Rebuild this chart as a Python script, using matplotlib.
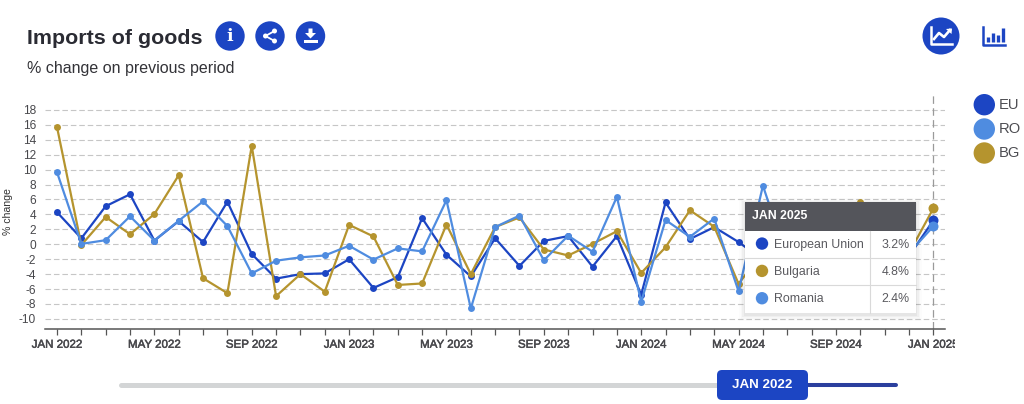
import matplotlib
matplotlib.use("Agg")
import matplotlib.pyplot as plt
import matplotlib.patheffects as pe
from matplotlib.patches import Circle, Rectangle, FancyBboxPatch, Polygon
from matplotlib.lines import Line2D
from matplotlib.transforms import Bbox

plt.rcParams['font.family'] = ['Liberation Sans', 'DejaVu Sans']

W, H = 1024, 404
TITLE = "Imports of goods"
SUBTITLE = "% change on previous period"
Y_LABEL = "% change"

month_labels = ["JAN 2022", "MAY 2022", "SEP 2022", "JAN 2023", "MAY 2023",
                "SEP 2023", "JAN 2024", "MAY 2024", "SEP 2024", "JAN 2025"]
y_ticks = list(range(-10, 20, 2))

eu = [4.3, 0.8, 5.1, 6.7, 0.5, 3.1, 0.3, 5.7, -1.3, -4.6, -4.0, -3.9,
      -2.0, -5.85, -4.4, 3.5, -1.4, -4.3, 0.8, -2.9, 0.45, 1.1, -3.0, 1.1,
      -6.75, 5.6, 0.7, 2.3, 0.3, -2.1, 1.0, -1.0, 1.0, 2.0, -0.5, -1.6, 3.2]
bg = [15.7, -0.1, 3.66, 1.35, 4.05, 9.25, -4.55, -6.55, 13.2, -6.95, -4.0, -6.35,
      2.6, 1.05, -5.45, -5.25, 2.65, -4.0, 2.3, 3.6, -0.7, -1.5, 0.05, 1.75,
      -3.85, -0.4, 4.55, 2.35, -5.3, -1.0, 2.0, 0.5, 1.0, 5.7, 1.0, -1.2, 4.8]
ro = [9.65, 0.05, 0.55, 3.75, 0.5, 3.15, 5.75, 2.45, -3.9, -2.2, -1.75, -1.5,
      -0.2, -2.05, -0.55, -0.95, 5.9, -8.6, 2.3, 3.85, -2.15, 1.15, -1.0, 6.35,
      -7.7, 3.25, 1.0, 3.45, -6.3, 7.85, -1.9, 1.0, 0.5, 2.0, 0.0, -1.2, 2.4]

EU_C, BG_C, RO_C = "#1c45c3", "#b5942e", "#4f8ce0"
BLUE = "#1c45c3"
TXT = "#48484c"

fig = plt.figure(figsize=(W / 100, H / 100), dpi=100, facecolor="white")

# plot area, placed by pixel box
L, R, T, B = 45, 945, 95, 329.3
ax = fig.add_axes([L / W, 1 - B / H, (R - L) / W, (B - T) / H])
ax.set_xlim(-12 / 24.34, 36 + 11.7 / 24.34)
ax.set_ylim(-11.39, 20)
for s in ("top", "right", "left"):
    ax.spines[s].set_visible(False)
ax.spines["bottom"].set_color("#555555")
ax.spines["bottom"].set_linewidth(1.1)

ax.set_yticks(y_ticks)
ax.set_yticklabels([str(v) for v in y_ticks], fontsize=8.6, color=TXT)
ax.tick_params(axis="y", length=0, pad=6.5)
ax.set_xticks(range(37))
ax.set_xticklabels([month_labels[i // 4] if i % 4 == 0 else "" for i in range(37)],
                   fontsize=8.3, color=TXT)
ax.tick_params(axis="x", length=4.3, width=0.9, color="#555555", pad=2.5)
ax.grid(axis="y", color="#c6c6c6", linewidth=0.8, linestyle=(0, (5, 2.6)))
ax.set_axisbelow(True)
ax.set_ylabel(Y_LABEL, fontsize=7.6, color="#333333")
ax.yaxis.set_label_coords((13 - L) / (R - L), (B - 212) / (B - T))

for lab in ax.get_xticklabels():
    lab.set_path_effects([pe.withStroke(linewidth=0.35, foreground=TXT)])
    lab.set_clip_on(True)
    lab.set_clip_box(Bbox([[0, 0], [955, 404]]))

ax.axvline(36, color="#9a9a9a", linewidth=0.9, linestyle=(0, (6, 3.5)), zorder=1.5)

months = list(range(37))
for vals, col in ((eu, EU_C), (bg, BG_C), (ro, RO_C)):
    ax.plot(months, vals, color=col, linewidth=1.6, marker="o", markersize=5.0,
            markeredgewidth=0, zorder=3, clip_on=False)
for vals, col in ((eu, EU_C), (bg, BG_C), (ro, RO_C)):
    ax.plot(months[-1:], vals[-1:], color=col, marker="o", markersize=7.2,
            markeredgewidth=0, zorder=4, clip_on=False)

# page furniture in pixel coordinates
ui = fig.add_axes([0, 0, 1, 1], zorder=5)
ui.set_xlim(0, W)
ui.set_ylim(H, 0)
ui.axis("off")
ui.patch.set_alpha(0)

ui.text(27, 43.5, TITLE, fontsize=15.4, fontweight="bold", color="#2a2b33", va="baseline")
ui.text(27, 73.5, SUBTITLE, fontsize=11.55, color="#333338", va="baseline")

# header buttons
for cx in (230, 270, 310.5):
    ui.add_patch(Circle((cx, 36), 14.7, color=BLUE, lw=0))
ui.text(230, 36.5, "i", color="white", fontsize=12.5, fontweight="bold", ha="center", va="center",
        family="DejaVu Serif")
ui.add_line(Line2D([274.5, 265.5, 274.5], [31, 36, 41], color="white", lw=1.3))
for p in ((274.5, 31), (265.5, 36), (274.5, 41)):
    ui.add_patch(Circle(p, 2.5, color="white", lw=0, zorder=3))
ui.add_patch(Polygon([(308.5, 28.5), (312.5, 28.5), (312.5, 33), (316, 33), (310.5, 38.5), (305, 33), (308.5, 33)],
                     color="white", lw=0))
ui.add_patch(Rectangle((303.5, 39.5), 14, 3.5, color="white", lw=0))

# chart type switches
ui.add_patch(Circle((941, 36), 18.5, color=BLUE, lw=0))
ui.add_line(Line2D([931, 931, 952], [27, 44, 44], color="white", lw=1.8))
ui.add_line(Line2D([934, 939, 944, 950], [39, 33, 37, 30], color="white", lw=1.9))
ui.add_patch(Polygon([(946, 29), (952, 28.5), (951.5, 34)], color="white", lw=0, zorder=3))
ui.add_line(Line2D([983, 983, 1005], [27, 44.5, 44.5], color=BLUE, lw=1.8))
for x, top in ((988, 37), (993, 33), (998, 35), (1003, 28)):
    ui.add_line(Line2D([x, x], [top, 42], color=BLUE, lw=2.4, solid_capstyle="butt"))

# legend
for lab, col, y in (("EU", EU_C, 104.7), ("RO", RO_C, 129), ("BG", BG_C, 153)):
    ui.add_patch(Circle((984.3, y), 10.7, color=col, lw=0))
    ui.text(999, y + 0.3, lab, fontsize=10.6, color="#4d4d52", va="center")

# tooltip
tx0, tx1, ty0, ty1, thead = 744.7, 916, 201.7, 312.7, 230.7
for grow, a in ((6, 0.012), (4, 0.02), (2.5, 0.03), (1.2, 0.04)):
    ui.add_patch(Rectangle((tx0 - grow, ty0 - grow + 2), tx1 - tx0 + 2 * grow, ty1 - ty0 + 2 * grow,
                           color="black", alpha=a, lw=0, zorder=4))
ui.add_patch(Rectangle((tx0, ty0), tx1 - tx0, ty1 - ty0, color="white", lw=0, zorder=5))
ui.add_patch(Rectangle((tx0, ty0), tx1 - tx0, thead - ty0, color="#54555b", lw=0, zorder=5))
ui.text(752, 216.3, "JAN 2025", color="white", fontsize=8.8, fontweight="bold", va="center", zorder=7)
rows = [("European Union", EU_C, f"{eu[-1]}%"), ("Bulgaria", BG_C, f"{bg[-1]}%"), ("Romania", RO_C, f"{ro[-1]}%")]
rh = (ty1 - thead) / 3
for i, (name, col, val) in enumerate(rows):
    cy = thead + rh * (i + 0.5)
    ui.add_patch(Circle((762, cy - 0.8), 6.2, color=col, lw=0, zorder=7))
    ui.text(774, cy + 0.3, name, fontsize=8.9, color="#5a5a5f", va="center", zorder=7)
    ui.text(910, cy + 0.3, val, fontsize=8.9, color="#5a5a5f", va="center", ha="right", zorder=7)
    if i:
        ui.add_line(Line2D([tx0, tx1], [thead + rh * i] * 2, color="#d9d9d9", lw=0.8, zorder=6))
ui.add_line(Line2D([870.3, 870.3], [thead, ty1], color="#d9d9d9", lw=0.8, zorder=6))

# range slider
ui.add_line(Line2D([121, 720], [385, 385], color="#d3d5d6", lw=3.6, solid_capstyle="round", zorder=2))
ui.add_line(Line2D([805, 896], [385, 385], color="#2b3f9e", lw=2.9, solid_capstyle="round", zorder=2))
ui.add_patch(FancyBboxPatch((720, 373), 85, 24, boxstyle="round,pad=3,rounding_size=5",
                            fc=BLUE, ec=BLUE, lw=0, zorder=3))
ui.text(762.5, 385.3, month_labels[0], color="white", fontsize=9.6, fontweight="bold",
        ha="center", va="center", zorder=4)

fig.savefig("out.png", dpi=100, facecolor="white")
